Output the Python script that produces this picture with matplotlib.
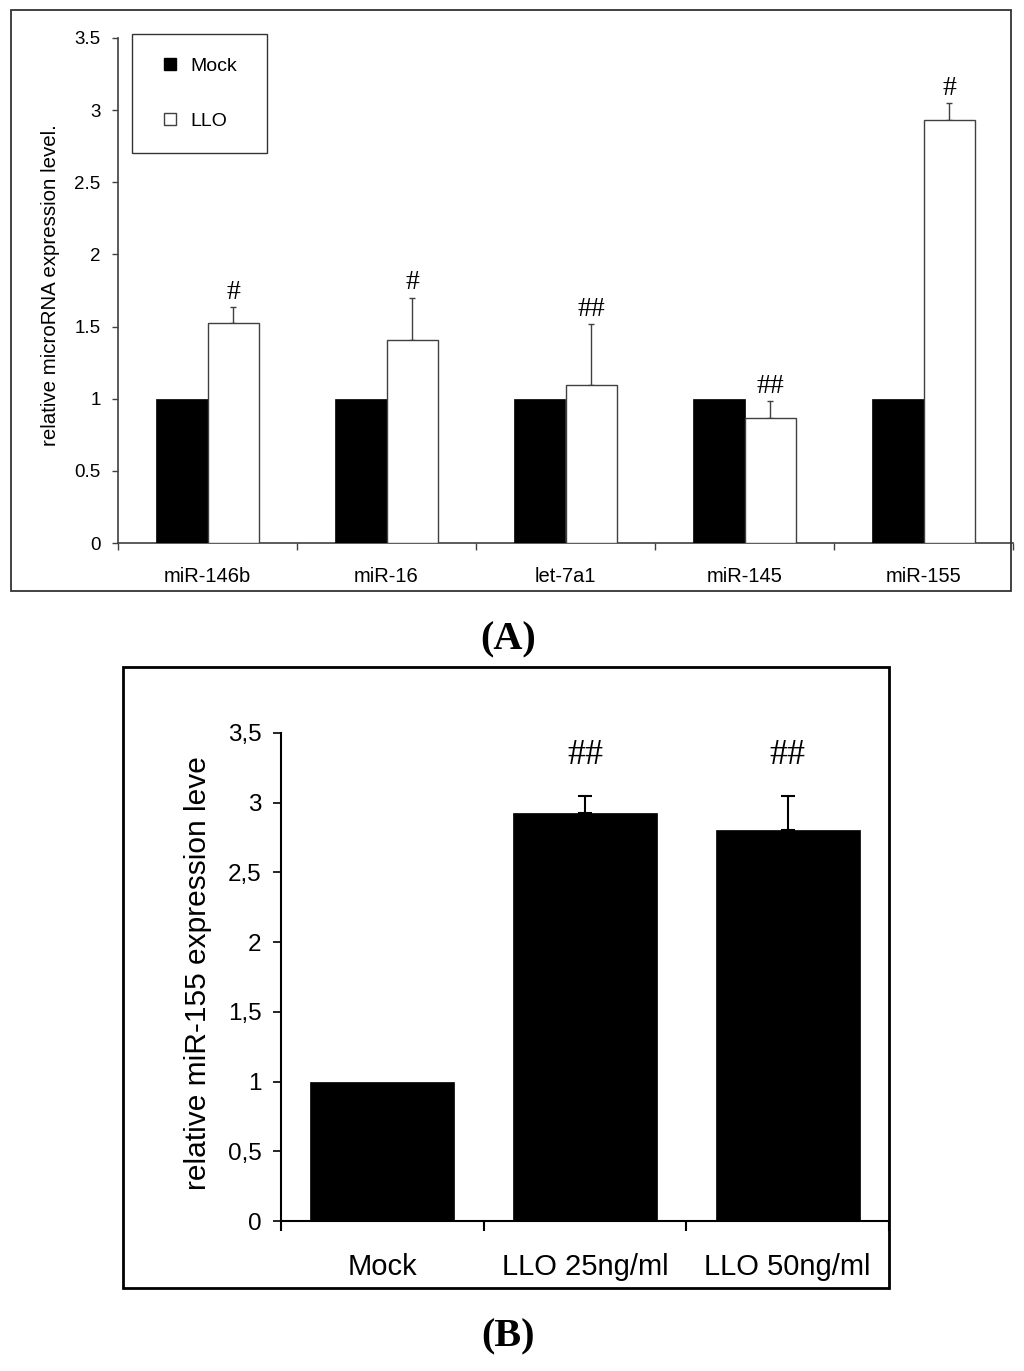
import numpy as np
import matplotlib.pyplot as plt
from matplotlib.patches import Rectangle
from matplotlib.lines import Line2D

plt.rcParams['font.family'] = ['Liberation Sans', 'DejaVu Sans']

W, H = 1024, 1371

# panel A: microRNA levels, mock vs LLO
mirnas = ['miR-146b', 'miR-16', 'let-7a1', 'miR-145', 'miR-155']
mock_a = [1.0, 1.0, 1.0, 1.0, 1.0]
llo_a = [1.525, 1.41, 1.095, 0.865, 2.93]
llo_a_err = [0.11, 0.29, 0.42, 0.12, 0.12]
marks_a = ['#', '#', '##', '##', '#']

# panel B: miR-155 by LLO dose
groups_b = ['Mock', 'LLO 25ng/ml', 'LLO 50ng/ml']
vals_b = [1.0, 2.925, 2.805]
err_b = [0.0, 0.125, 0.245]
marks_b = ['', '##', '##']

yticks = np.arange(0, 3.51, 0.5)


def px_axes(fig, x0, y0, x1, y1):
    # pixel box (top-left origin) -> figure fraction
    return fig.add_axes([x0 / W, 1 - y1 / H, (x1 - x0) / W, (y1 - y0) / H])


def px_frame(fig, x0, y0, x1, y1, color, lw):
    fig.add_artist(Rectangle((x0 / W, 1 - y1 / H), (x1 - x0) / W, (y1 - y0) / H,
                             transform=fig.transFigure, fill=False,
                             edgecolor=color, linewidth=lw))


fig = plt.figure(figsize=(W / 100, H / 100), dpi=100)

# ================= Panel A =================
px_frame(fig, 11, 10, 1011, 591, '#333333', 1.3)
ax = px_axes(fig, 118, 38, 1013, 543)
axc = '#404040'
n = len(mirnas)
centers = np.arange(n) + 0.5
bw = 0.285

ax.bar(centers - bw / 2, mock_a, bw, color='black', edgecolor='black', lw=0.5, zorder=3)
ax.bar(centers + bw / 2, llo_a, bw, color='white', edgecolor=axc, lw=1.0, zorder=3)
ax.errorbar(centers + bw / 2, llo_a, yerr=[np.zeros(n), llo_a_err], fmt='none',
            ecolor=axc, elinewidth=1.0, capsize=2.5, capthick=1.0, zorder=2)
for x, y, e, m in zip(centers + bw / 2, llo_a, llo_a_err, marks_a):
    ax.annotate(m, (x, y + e), xytext=(0, 6), textcoords='offset points',
                ha='center', va='baseline', fontsize=20, family='Liberation Serif')

ax.set_xlim(0, n)
ax.set_ylim(0, 3.5)
for s in ['top', 'right']:
    ax.spines[s].set_visible(False)
for s in ['left', 'bottom']:
    ax.spines[s].set_color(axc)
    ax.spines[s].set_linewidth(1.2)
ax.set_yticks(yticks)
ax.set_yticklabels([f'{v:g}' for v in yticks])
ax.tick_params(axis='y', length=4.5, width=1, color=axc, pad=8, labelsize=13.5)
ax.set_xticks(np.arange(n + 1))
ax.set_xticklabels([])
ax.set_xticks(centers, minor=True)
ax.set_xticklabels(mirnas, minor=True)
ax.tick_params(axis='x', which='major', length=5, width=1, color=axc)
ax.tick_params(axis='x', which='minor', length=0, pad=17, labelsize=14.5)
ax.set_ylabel('relative microRNA expression level.', fontsize=14.8)
ax.yaxis.set_label_coords((60 - 118) / 895, (543 - 285) / 505)

handles = [Line2D([], [], marker='s', ls='none', ms=9, mfc='black', mec='black'),
           Line2D([], [], marker='s', ls='none', ms=9, mfc='white', mec=axc, mew=1)]
leg = ax.legend(handles, ['Mock', 'LLO'], loc='upper left', mode='expand',
                bbox_to_anchor=(132 / W, 1 - 150 / H, 135 / W, 116 / H),
                bbox_transform=fig.transFigure,
                borderaxespad=0, fontsize=14, frameon=True, fancybox=False,
                edgecolor='#333333', framealpha=1, borderpad=1.2,
                labelspacing=1.9, handlelength=1.5, handletextpad=0.3)
leg.get_frame().set_linewidth(1.0)

fig.text(508 / W, 1 - 640 / H, '(A)', ha='center', va='center', fontsize=29,
         fontweight='bold', family='Liberation Serif')

# ================= Panel B =================
px_frame(fig, 123, 667, 889, 1288, 'black', 2.0)
bx = px_axes(fig, 281, 733, 889, 1221)
nb = len(groups_b)
cb = np.arange(nb) + 0.5
bwb = 0.71

bx.bar(cb, vals_b, bwb, color='black', edgecolor='black', lw=0.5, zorder=3)
bx.errorbar(cb[1:], vals_b[1:], yerr=[np.zeros(nb - 1), err_b[1:]], fmt='none',
            ecolor='black', elinewidth=1.5, capsize=5, capthick=1.5, zorder=2)
for x, y, e, m in zip(cb, vals_b, err_b, marks_b):
    if m:
        bx.annotate(m, (x, y + e), xytext=(0, 23), textcoords='offset points',
                    ha='center', va='baseline', fontsize=26, family='Liberation Serif')

bx.set_xlim(0, nb)
bx.set_ylim(0, 3.5)
for s in ['top', 'right']:
    bx.spines[s].set_visible(False)
for s in ['left', 'bottom']:
    bx.spines[s].set_linewidth(1.5)
bx.set_yticks(yticks)
bx.set_yticklabels([f'{v:g}'.replace('.', ',') for v in yticks])
bx.tick_params(axis='y', length=6, width=1.2, pad=8, labelsize=17.5)
bx.set_xticks(np.arange(nb + 1))
bx.set_xticklabels([])
bx.set_xticks(cb, minor=True)
bx.set_xticklabels(groups_b, minor=True)
bx.tick_params(axis='x', which='major', length=7, width=1.5)
bx.tick_params(axis='x', which='minor', length=0, pad=23, labelsize=21)
bx.set_ylabel('relative miR-155 expression leve', fontsize=21.5)
bx.yaxis.set_label_coords((212 - 281) / 608, (1221 - 973) / 488)

fig.text(508 / W, 1 - 1337 / H, '(B)', ha='center', va='center', fontsize=29,
         fontweight='bold', family='Liberation Serif')

fig.savefig('out.png', dpi=100)
